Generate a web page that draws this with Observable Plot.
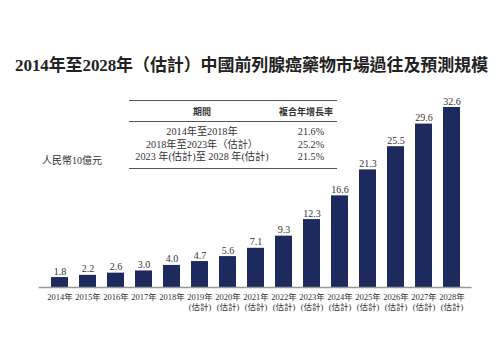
<!DOCTYPE html>
<html><head><meta charset="utf-8">
<script src="https://cdn.jsdelivr.net/npm/d3@7"></script>
<script src="https://cdn.jsdelivr.net/npm/@observablehq/plot@0.6"></script>
<style>
body{margin:0;background:#fff;}
#wrap{position:relative;width:500px;height:362px;font-family:"Liberation Serif","Noto Sans CJK TC",serif;color:#333;}
#wrap svg{position:absolute;left:0;top:0;}
#title{position:absolute;left:0;width:503px;top:51px;text-align:center;font-size:17px;font-weight:bold;color:#222;white-space:nowrap;letter-spacing:-0.1px;}
#unit{position:absolute;left:42px;top:152px;font-size:10px;color:#333;white-space:nowrap;}
#tbl{position:absolute;left:129px;top:100px;width:208px;border-collapse:collapse;font-size:10.2px;color:#333;}
#tbl th{font-family:"Noto Sans CJK TC",sans-serif;font-weight:bold;font-size:9px;height:20px;padding:0;border-top:1.5px solid #555;border-bottom:1px solid #555;}
#tbl td{padding:0;height:12.5px;line-height:12.5px;white-space:nowrap;}
#tbl tr.first td{padding-top:4px;}
#tbl tr.last td{padding-bottom:4px;border-bottom:1px solid #555;}
</style></head>
<body><div id="wrap">
<div id="title">2014年至2028年（估計）中國前列腺癌藥物市場過往及預測規模</div>
<div id="unit">人民幣10億元</div>
</div>
<script>
const years = ["2014","2015","2016","2017","2018","2019","2020","2021","2022","2023","2024","2025","2026","2027","2028"];
const estimated = [false,false,false,false,false,true,true,true,true,true,true,true,true,true,true];
const values = [1.8,2.2,2.6,3.0,4.0,4.7,5.6,7.1,9.3,12.3,16.6,21.3,25.5,29.6,32.6];
const tableHeader = ["期間","複合年增長率"];
const periods = ["2014年至2018年","2018年至2023年（估計）","2023 年(估計)至 2028 年(估計)"];
const rates = ["21.6%","25.2%","21.5%"];

const data = years.map((y,i)=>({year:y, est:estimated[i], value:values[i]}));
const labelOf = new Map(data.map(d=>[d.year, d.est ? d.year+"年\n(估計)" : d.year+"年"]));

const chart = Plot.plot({
  width:500, height:362,
  marginLeft:38.6, marginRight:28.4, marginTop:107, marginBottom:75,
  style:{fontFamily:'"Liberation Serif","Noto Sans CJK TC",serif', color:"#333", background:"transparent"},
  x:{type:"band", domain:years, paddingInner:0.4, paddingOuter:0.2},
  y:{domain:[0,32.6], axis:null},
  marks:[
    Plot.barY(data,{x:"year", y:"value", fill:"#1d2a5e"}),
    Plot.ruleY([0],{stroke:"#999", strokeWidth:1.5}),
    Plot.text(data,{x:"year", y:"value", text:d=>d.value.toFixed(1), lineAnchor:"bottom", dy:-3, fontSize:10, fill:"#333"}),
    Plot.axisX({tickSize:0, tickPadding:5, fontSize:8.5, lineHeight:1.2, label:null, tickFormat:d=>labelOf.get(d), fill:"#333"})
  ]
});
const wrap = document.getElementById("wrap");
wrap.insertBefore(chart, wrap.firstChild);

const tbl = document.createElement("table");
tbl.id = "tbl";
let html = `<tr><th style="width:146px">${tableHeader[0]}</th><th>${tableHeader[1]}</th></tr>`;
periods.forEach((p,i)=>{
  const cls = i===0 ? "first" : (i===periods.length-1 ? "last" : "");
  html += `<tr class="${cls}"><td style="text-align:center">${p}</td><td style="text-align:center;padding-left:10px">${rates[i]}</td></tr>`;
});
tbl.innerHTML = html;
wrap.appendChild(tbl);
</script>
</body></html>
